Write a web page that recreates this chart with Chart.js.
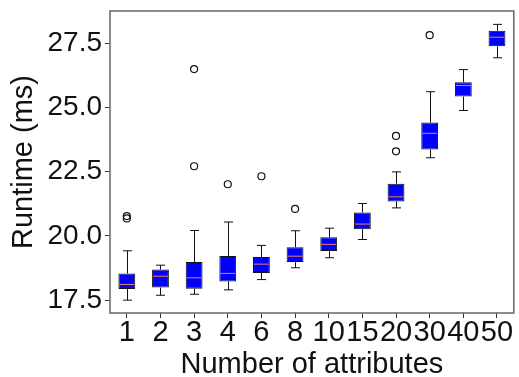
<!DOCTYPE html>
<html>
<head>
<meta charset="utf-8">
<script src="https://cdn.jsdelivr.net/npm/chart.js@4/dist/chart.umd.min.js"></script>
<style>
  html, body { margin: 0; padding: 0; background: #fff; }
  #wrap { width: 519px; height: 377px; }
</style>
</head>
<body>
<div id="wrap"><canvas id="boxChart" width="519" height="377"></canvas></div>
<script>
// Box plot data (runtime in ms)
const categories = ['1', '2', '3', '4', '6', '8', '10', '15', '20', '30', '40', '50'];
const whiskerLow  = [17.50, 17.69, 17.73, 17.90, 18.30, 18.76, 19.15, 19.86, 21.09, 23.04, 24.88, 26.93];
const q1          = [17.93, 17.99, 17.94, 18.23, 18.56, 18.98, 19.41, 20.26, 21.34, 23.36, 25.42, 27.38];
const medians     = [18.11, 18.43, 18.37, 18.54, 18.90, 19.21, 19.67, 20.46, 21.52, 23.99, 25.85, 27.73];
const q3          = [18.54, 18.69, 18.98, 19.22, 19.18, 19.56, 19.95, 20.91, 22.03, 24.41, 25.98, 27.98];
const whiskerHigh = [19.42, 18.86, 20.21, 20.54, 19.63, 20.20, 20.30, 21.26, 22.49, 25.61, 26.47, 28.23];
const outliers    = [[20.77, 20.68], [], [22.71, 26.49], [22.01], [22.32], [21.05], [], [], [23.29, 23.89], [27.81], [], []];
const yTicks = [17.5, 20.0, 22.5, 25.0, 27.5];

const FONT = "'Liberation Sans', Arial, Helvetica, sans-serif";

// whiskers + caps under the boxes, medians on top, frame around plot
const boxExtras = {
    id: 'boxExtras',
    beforeDatasetsDraw(chart) {
        const ctx = chart.ctx;
        const x = chart.scales.x, y = chart.scales.y;
        const capHalf = 4.5;
        ctx.save();
        ctx.strokeStyle = '#111';
        ctx.lineWidth = 1;
        categories.forEach((c, i) => {
            const px = Math.round(x.getPixelForValue(i)) + 0.5;
            ctx.beginPath();
            ctx.moveTo(px, y.getPixelForValue(whiskerLow[i]));
            ctx.lineTo(px, y.getPixelForValue(q1[i]));
            ctx.moveTo(px, y.getPixelForValue(q3[i]));
            ctx.lineTo(px, y.getPixelForValue(whiskerHigh[i]));
            ctx.moveTo(px - capHalf, y.getPixelForValue(whiskerLow[i]));
            ctx.lineTo(px + capHalf, y.getPixelForValue(whiskerLow[i]));
            ctx.moveTo(px - capHalf, y.getPixelForValue(whiskerHigh[i]));
            ctx.lineTo(px + capHalf, y.getPixelForValue(whiskerHigh[i]));
            ctx.stroke();
        });
        ctx.restore();
    },
    afterDatasetsDraw(chart) {
        const ctx = chart.ctx;
        const y = chart.scales.y;
        const meta = chart.getDatasetMeta(0);
        ctx.save();
        ctx.strokeStyle = '#f08050';
        ctx.lineWidth = 1;
        medians.forEach((m, i) => {
            const bar = meta.data[i];
            const half = bar.width / 2;
            const py = y.getPixelForValue(m);
            ctx.beginPath();
            ctx.moveTo(bar.x - half + 1, py);
            ctx.lineTo(bar.x + half - 1, py);
            ctx.stroke();
        });
        const a = chart.chartArea;
        ctx.strokeStyle = '#666';
        ctx.lineWidth = 1.5;
        ctx.strokeRect(a.left, a.top, a.right - a.left, a.bottom - a.top);
        ctx.restore();
    }
};

const outlierPoints = [];
outliers.forEach((vals, i) => {
    vals.forEach(v => outlierPoints.push({ x: categories[i], y: v }));
});

new Chart(document.getElementById('boxChart'), {
    type: 'bar',
    data: {
        labels: categories,
        datasets: [{
            label: 'Runtime',
            data: q1.map((v, i) => [v, q3[i]]),
            backgroundColor: '#0000ff',
            borderColor: '#111',
            borderWidth: 1,
            borderSkipped: false,
            barPercentage: 0.5,
            categoryPercentage: 1.0
        }, {
            type: 'line',
            label: 'Outliers',
            data: outlierPoints,
            showLine: false,
            pointStyle: 'circle',
            pointRadius: 3.5,
            pointBorderWidth: 1.2,
            pointBorderColor: '#111',
            pointBackgroundColor: 'rgba(255,255,255,0)'
        }]
    },
    options: {
        responsive: false,
        animation: false,
        layout: { padding: { top: 11, right: 2, left: 0, bottom: 0 } },
        plugins: {
            legend: { display: false },
            tooltip: { enabled: false }
        },
        scales: {
            x: {
                offset: true,
                grid: { display: true, drawOnChartArea: false, tickLength: 5, tickColor: '#333', offset: false },
                border: { display: false },
                ticks: { color: '#111', padding: -2, font: { family: FONT, size: 29 }, maxRotation: 0, autoSkip: false },
                title: { display: true, text: 'Number of attributes', color: '#111', padding: { top: 0, bottom: 0 }, font: { family: FONT, size: 29, lineHeight: 0.8 } },
                afterFit(scale) { scale.height = 64; scale.paddingLeft = 0; scale.paddingRight = 0; }
            },
            y: {
                min: 17.0,
                max: 28.75,
                afterBuildTicks(scale) { scale.ticks = yTicks.map(v => ({ value: v })); },
                grid: { display: true, drawOnChartArea: false, tickLength: 5, tickColor: '#333' },
                border: { display: false },
                ticks: {
                    color: '#111', padding: 3,
                    font: { family: FONT, size: 28 },
                    callback: v => Number(v).toFixed(1)
                },
                title: { display: true, text: 'Runtime (ms)', color: '#111', padding: { top: 7, bottom: 0 }, font: { family: FONT, size: 29 } },
                afterFit(scale) { scale.width = 110; scale.paddingTop = 0; scale.paddingBottom = 0; }
            }
        }
    },
    plugins: [boxExtras]
});
</script>
</body>
</html>
